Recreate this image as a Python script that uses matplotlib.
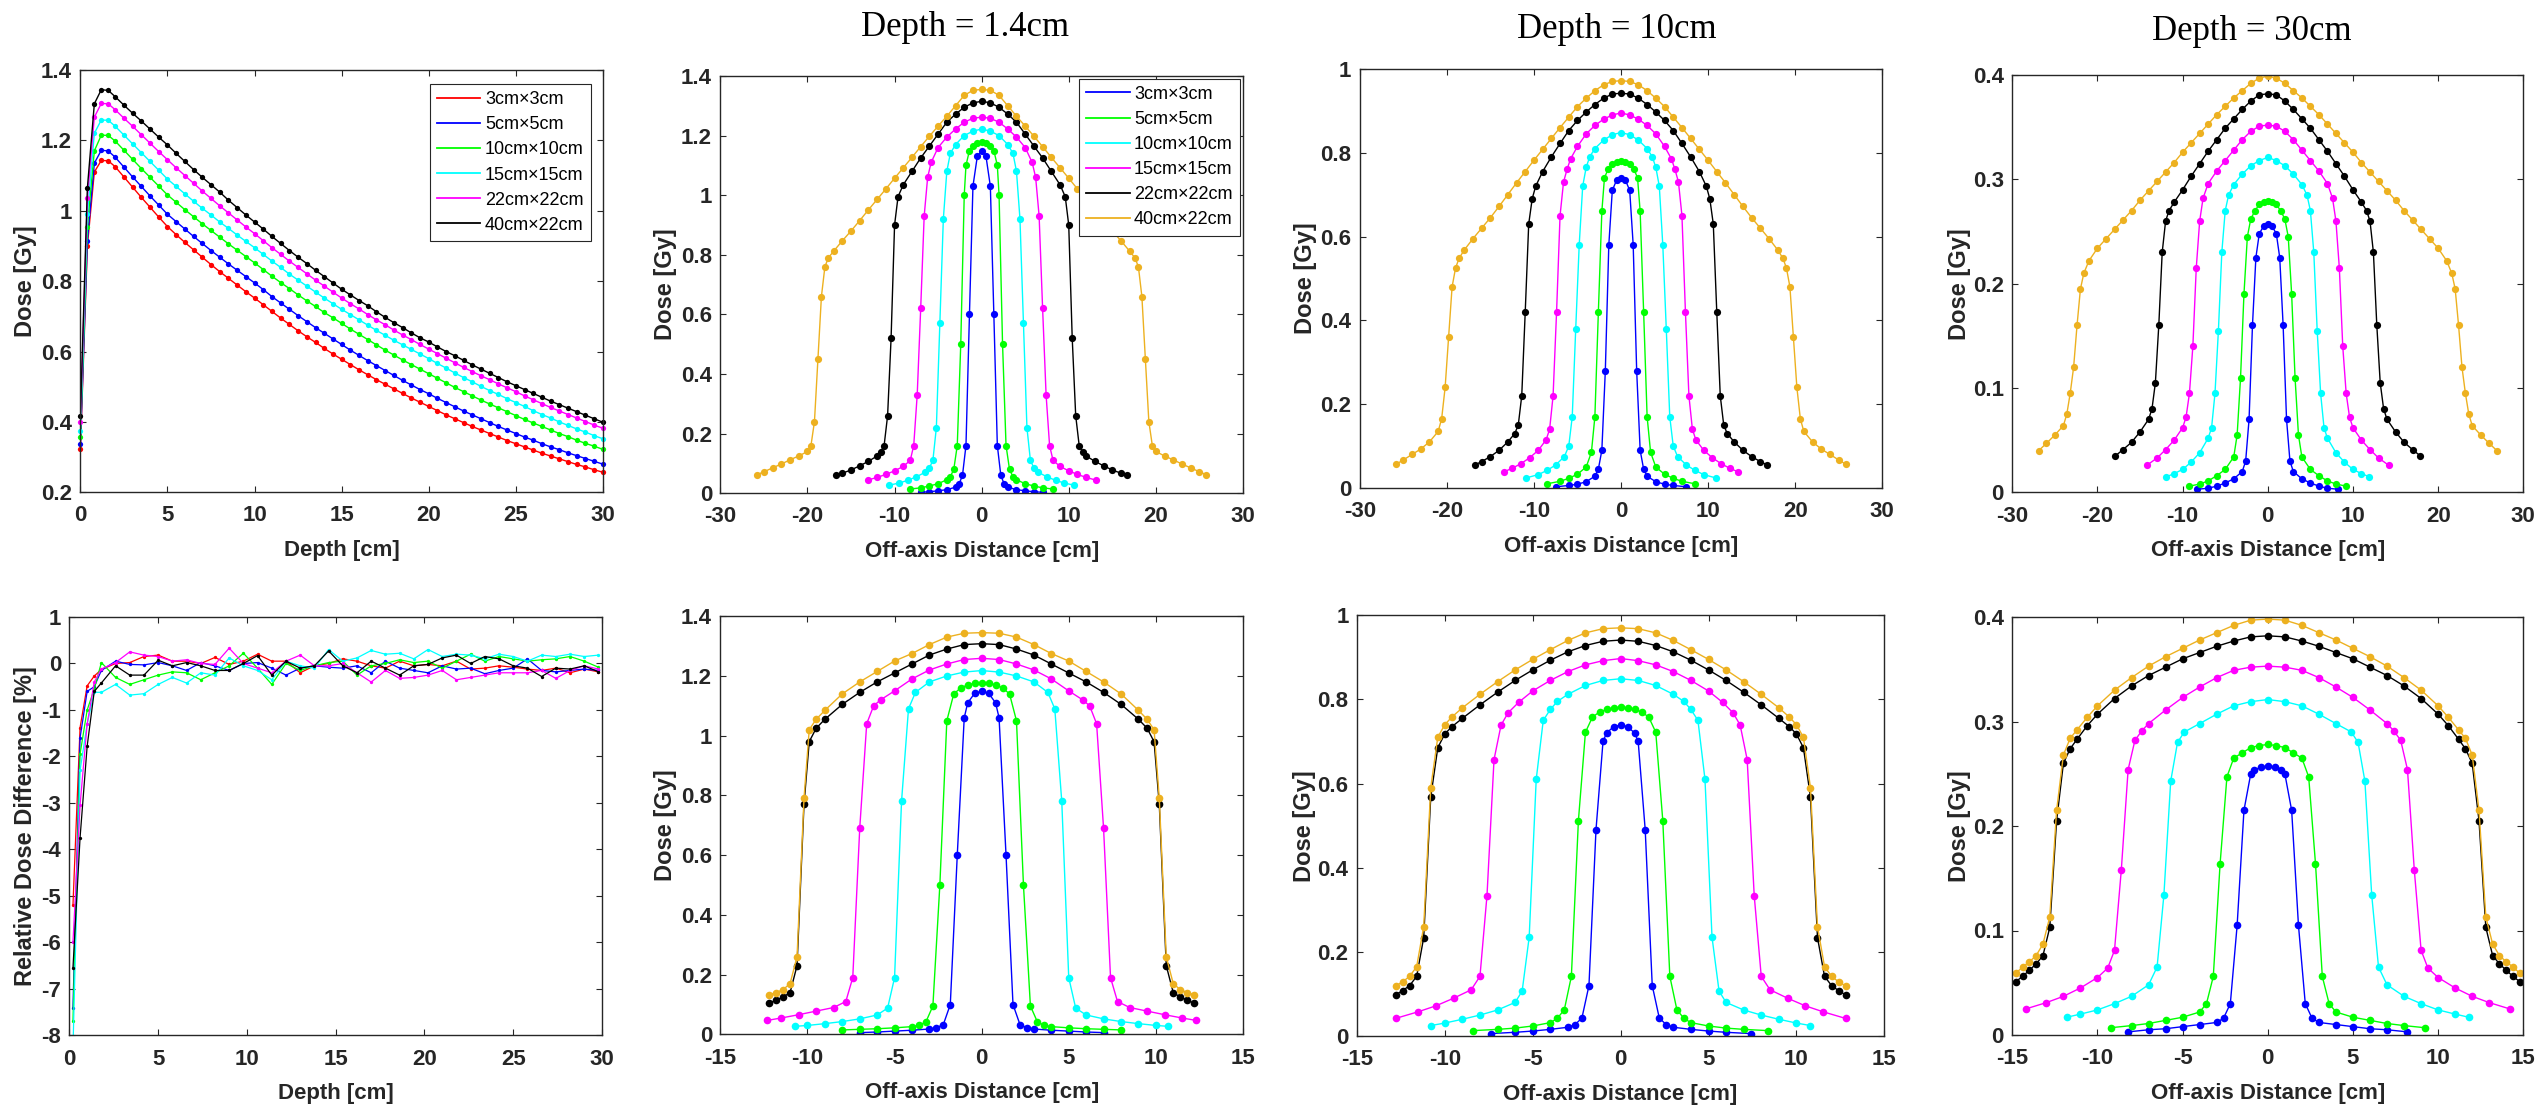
import matplotlib
matplotlib.use("Agg")
import matplotlib.pyplot as plt
from matplotlib.lines import Line2D
from matplotlib.ticker import FuncFormatter

plt.rcParams["axes.unicode_minus"] = False
plt.rcParams["font.family"] = ["Liberation Sans", "DejaVu Sans"]

field_labels = ["3cm×3cm", "5cm×5cm", "10cm×10cm", "15cm×15cm", "22cm×22cm", "40cm×22cm"]
pdd_colors = ["#ff0000", "#0000ff", "#00ff00", "#00ffff", "#ff00ff", "#000000"]
prof_colors = ["#0000ff", "#00ff00", "#00ffff", "#ff00ff", "#000000", "#edb120"]

# ---- depth dose curves [Gy] ----
pdd_depth = [0, 0.4, 0.8, 1.2, 1.6, 2.0, 2.5, 3.0, 3.5, 4.0, 4.5, 5.0,
             5.5, 6.0, 6.5, 7.0, 7.5, 8.0, 8.5, 9.0, 9.5, 10.0,
             10.5, 11.0, 11.5, 12.0, 12.5, 13.0, 13.5, 14.0, 14.5, 15.0,
             15.5, 16.0, 16.5, 17.0, 17.5, 18.0, 18.5, 19.0, 19.5, 20.0,
             20.5, 21.0, 21.5, 22.0, 22.5, 23.0, 23.5, 24.0, 24.5, 25.0,
             25.5, 26.0, 26.5, 27.0, 27.5, 28.0, 28.5, 29.0, 29.5, 30.0]
pdd_3x3 = [0.323, 0.90, 1.11, 1.143, 1.142, 1.125, 1.096, 1.067, 1.038, 1.01, 0.982, 0.955,
           0.932, 0.910, 0.889, 0.868, 0.847, 0.827, 0.808, 0.789, 0.770, 0.752,
           0.733, 0.714, 0.695, 0.677, 0.659, 0.642, 0.626, 0.609, 0.593, 0.578,
           0.563, 0.548, 0.534, 0.520, 0.507, 0.494, 0.481, 0.468, 0.456, 0.444,
           0.432, 0.420, 0.409, 0.398, 0.387, 0.377, 0.367, 0.357, 0.347, 0.338,
           0.329, 0.320, 0.311, 0.303, 0.295, 0.287, 0.279, 0.272, 0.264, 0.257]
pdd_5x5 = [0.336, 0.915, 1.135, 1.172, 1.17, 1.152, 1.124, 1.096, 1.069, 1.042, 1.016, 0.99,
           0.969, 0.948, 0.927, 0.907, 0.887, 0.868, 0.849, 0.831, 0.813, 0.795,
           0.776, 0.756, 0.738, 0.720, 0.702, 0.685, 0.668, 0.652, 0.636, 0.620,
           0.604, 0.589, 0.574, 0.560, 0.546, 0.532, 0.518, 0.505, 0.492, 0.480,
           0.467, 0.455, 0.443, 0.431, 0.420, 0.409, 0.398, 0.387, 0.377, 0.367,
           0.357, 0.348, 0.338, 0.329, 0.321, 0.312, 0.304, 0.296, 0.288, 0.280]
pdd_10x10 = [0.356, 0.955, 1.17, 1.215, 1.214, 1.198, 1.172, 1.146, 1.12, 1.095, 1.07, 1.045,
             1.024, 1.003, 0.983, 0.963, 0.944, 0.925, 0.906, 0.888, 0.870, 0.852,
             0.833, 0.814, 0.796, 0.779, 0.761, 0.744, 0.728, 0.711, 0.696, 0.680,
             0.664, 0.649, 0.634, 0.619, 0.604, 0.590, 0.576, 0.563, 0.550, 0.537,
             0.524, 0.511, 0.498, 0.486, 0.474, 0.462, 0.451, 0.440, 0.429, 0.418,
             0.407, 0.397, 0.387, 0.377, 0.367, 0.358, 0.348, 0.339, 0.331, 0.322]
pdd_15x15 = [0.375, 0.99, 1.22, 1.258, 1.257, 1.24, 1.215, 1.19, 1.165, 1.14, 1.115, 1.09,
             1.069, 1.048, 1.027, 1.007, 0.988, 0.968, 0.950, 0.931, 0.913, 0.895,
             0.876, 0.857, 0.839, 0.820, 0.803, 0.786, 0.769, 0.752, 0.736, 0.720,
             0.705, 0.690, 0.675, 0.660, 0.646, 0.632, 0.619, 0.606, 0.593, 0.580,
             0.566, 0.553, 0.539, 0.526, 0.514, 0.501, 0.489, 0.478, 0.466, 0.455,
             0.444, 0.432, 0.421, 0.411, 0.400, 0.390, 0.380, 0.371, 0.361, 0.352]
pdd_22x22 = [0.399, 1.035, 1.266, 1.305, 1.304, 1.287, 1.263, 1.24, 1.216, 1.192, 1.168, 1.145,
             1.122, 1.100, 1.078, 1.056, 1.035, 1.014, 0.994, 0.974, 0.954, 0.935,
             0.915, 0.895, 0.876, 0.857, 0.839, 0.821, 0.803, 0.786, 0.769, 0.752,
             0.736, 0.721, 0.705, 0.690, 0.676, 0.661, 0.647, 0.634, 0.620, 0.607,
             0.594, 0.581, 0.568, 0.555, 0.543, 0.531, 0.520, 0.508, 0.497, 0.486,
             0.474, 0.463, 0.452, 0.441, 0.431, 0.421, 0.411, 0.401, 0.391, 0.382]
pdd_40x22 = [0.418, 1.064, 1.304, 1.344, 1.342, 1.324, 1.30, 1.277, 1.255, 1.232, 1.209, 1.187,
             1.163, 1.14, 1.117, 1.095, 1.074, 1.053, 1.03, 1.009, 0.988, 0.968,
             0.948, 0.927, 0.907, 0.887, 0.868, 0.85, 0.831, 0.813, 0.795, 0.777,
             0.761, 0.745, 0.73, 0.713, 0.697, 0.682, 0.668, 0.653, 0.639, 0.627,
             0.613, 0.6, 0.588, 0.575, 0.562, 0.55, 0.538, 0.526, 0.514, 0.503,
             0.492, 0.481, 0.47, 0.459, 0.449, 0.439, 0.429, 0.419, 0.409, 0.399]
pdd_values = [pdd_3x3, pdd_5x5, pdd_10x10, pdd_15x15, pdd_22x22, pdd_40x22]

# ---- relative dose difference [%] ----
diff_depth = [0.2, 0.6, 1.0, 1.4, 1.8, 2.6, 3.4, 4.2, 5.0, 5.8, 6.6, 7.4, 8.2, 9.0, 9.8,
              10.6, 11.4, 12.2, 13.0, 13.8, 14.6, 15.4, 16.2, 17.0, 17.8, 18.6, 19.4,
              20.2, 21.0, 21.8, 22.6, 23.4, 24.2, 25.0, 25.8, 26.6, 27.4, 28.2, 29.0, 29.8]
diff_3x3 = [-5.2, -1.38, -0.48, -0.27, -0.13, 0.0, 0.02, 0.15, 0.18, 0.05, 0.05, 0.0, 0.13, -0.02,
            0.05, 0.2, 0.05, 0.05, -0.2, -0.05, 0.0, 0.1, 0.05, -0.05, -0.1, 0.05, -0.05, -0.02,
            -0.05, 0.05, -0.12, -0.1, -0.05, -0.08, -0.12, -0.15, -0.1, -0.2, -0.12, -0.18]
diff_5x5 = [-7.4, -1.6, -0.6, -0.5, -0.15, 0.05, -0.02, -0.03, 0.02, -0.05, -0.15, 0.02, -0.05,
            -0.15, 0.0, 0.02, -0.1, -0.25, -0.1, -0.05, -0.08, -0.1, -0.05, -0.2, 0.05, -0.1,
            -0.15, -0.2, -0.05, -0.12, -0.1, -0.22, -0.15, -0.1, 0.1, -0.15, -0.18, -0.15, -0.12, -0.15]
diff_10x10 = [-7.7, -1.95, -1.0, -0.55, 0.02, -0.3, -0.45, -0.35, -0.25, -0.18, -0.2, -0.35, -0.2,
              -0.05, 0.22, -0.1, -0.45, 0.0, -0.15, -0.05, 0.02, 0.05, -0.25, -0.05, 0.0, 0.08,
              0.02, 0.05, -0.1, 0.05, 0.2, 0.05, 0.15, 0.1, 0.05, 0.08, 0.1, 0.15, 0.05, -0.08]
diff_15x15 = [-8.3, -2.3, -1.3, -0.62, -0.62, -0.45, -0.68, -0.65, -0.45, -0.3, -0.42, -0.2, -0.25,
              0.12, -0.05, -0.15, -0.35, 0.05, -0.05, -0.1, 0.3, 0.05, 0.12, 0.28, 0.2, 0.22, 0.1,
              0.3, 0.15, 0.2, 0.18, 0.1, 0.2, 0.15, 0.05, 0.18, 0.15, 0.2, 0.15, 0.18]
diff_22x22 = [-6.0, -3.05, -1.3, -0.4, -0.12, 0.02, 0.25, 0.18, 0.15, 0.05, 0.08, 0.0, -0.02, 0.33,
              0.0, -0.1, -0.2, 0.05, 0.18, -0.05, -0.05, 0.0, -0.2, -0.4, -0.15, -0.32, -0.3,
              -0.25, -0.15, -0.35, -0.3, -0.25, -0.2, -0.2, -0.2, -0.15, -0.32, -0.15, -0.05, -0.12]
diff_40x22 = [-6.55, -3.75, -1.78, -0.6, -0.42, -0.05, -0.25, -0.25, 0.07, -0.05, 0.02, -0.05,
              -0.15, -0.15, 0.0, 0.17, -0.25, 0.05, -0.1, -0.05, 0.27, -0.05, -0.2, 0.05, -0.1,
              -0.25, -0.05, -0.02, 0.12, 0.18, 0.0, 0.15, 0.1, -0.05, -0.1, -0.28, -0.1, -0.12, -0.05, -0.18]
diff_values = [diff_3x3, diff_5x5, diff_10x10, diff_15x15, diff_22x22, diff_40x22]

# ---- half profiles (off-axis >= 0, symmetric), order 3x3 ... 40x22 ----
# depth 1.4 cm, long axis
inl14_x = [[0, 0.5, 1.0, 1.4, 1.8, 2.2, 2.6, 3, 4, 5, 6, 7],
           [0, 0.5, 1.0, 1.4, 1.8, 2.0, 2.4, 2.8, 3.2, 3.6, 4, 5, 6, 7, 8.2],
           [0, 1, 2, 3, 3.6, 4.0, 4.4, 4.8, 5.2, 5.6, 6.0, 6.5, 7.5, 8.5, 9.5, 10.6],
           [0, 1, 2, 3, 4, 5, 5.8, 6.2, 6.6, 7.0, 7.4, 7.8, 8.2, 9, 10, 11, 12, 13.1],
           [0, 1, 2, 3, 4, 5, 6, 7, 8, 9, 9.6, 10.0, 10.4, 10.8, 11.2, 11.6, 12, 13, 14, 15, 16, 16.7],
           [0, 1, 2, 3, 4, 5, 6, 7, 8, 9, 10, 11, 12, 13, 14, 15, 16, 17, 17.6, 18.0, 18.4, 18.8,
            19.2, 19.6, 20, 21, 22, 23, 24, 25, 25.8]]
inl14_d = [[1.15, 1.13, 1.03, 0.6, 0.16, 0.06, 0.03, 0.02, 0.012, 0.008, 0.005, 0.003],
           [1.178, 1.175, 1.165, 1.15, 1.10, 1.0, 0.5, 0.16, 0.08, 0.055, 0.045, 0.032, 0.024, 0.018, 0.014],
           [1.222, 1.215, 1.20, 1.17, 1.14, 1.08, 0.92, 0.57, 0.22, 0.11, 0.085, 0.07, 0.055, 0.043, 0.034, 0.027],
           [1.262, 1.258, 1.245, 1.222, 1.195, 1.16, 1.11, 1.06, 0.93, 0.62, 0.33, 0.16, 0.11, 0.09, 0.075,
            0.063, 0.053, 0.044],
           [1.315, 1.31, 1.295, 1.272, 1.245, 1.205, 1.165, 1.125, 1.08, 1.035, 0.995, 0.90, 0.52, 0.26,
            0.16, 0.138, 0.125, 0.107, 0.092, 0.078, 0.067, 0.06],
           [1.355, 1.352, 1.335, 1.30, 1.265, 1.232, 1.198, 1.163, 1.127, 1.092, 1.057, 1.021, 0.986,
            0.951, 0.915, 0.88, 0.847, 0.812, 0.79, 0.76, 0.66, 0.45, 0.24, 0.16, 0.14, 0.125, 0.112,
            0.098, 0.085, 0.072, 0.062]]
# depth 10 cm, long axis
inl10_x = [[0, 0.5, 1.0, 1.4, 1.8, 2.2, 2.6, 3, 4, 5, 6, 7.5],
           [0, 0.5, 1.0, 1.5, 1.9, 2.2, 2.6, 3.0, 3.4, 4, 5, 6, 7, 8.5],
           [0, 1, 2, 3, 3.6, 4.0, 4.4, 4.8, 5.2, 5.6, 6.0, 6.5, 7.5, 8.5, 9.5, 10.9],
           [0, 1, 2, 3, 4, 5, 5.8, 6.2, 6.6, 7.0, 7.4, 7.8, 8.2, 8.6, 9.5, 10.5, 11.5, 12.5, 13.4],
           [0, 1, 2, 3, 4, 5, 6, 7, 8, 9, 9.8, 10.2, 10.6, 11.0, 11.4, 11.8, 12.2, 13, 14, 15, 16, 16.8],
           [0, 1, 2, 3, 4, 5, 6, 7, 8, 9, 10, 11, 12, 13, 14, 15, 16, 17, 18, 18.6, 19.0, 19.4, 19.8,
            20.2, 20.6, 21.0, 22, 23, 24, 25, 25.8]]
inl10_d = [[0.74, 0.735, 0.71, 0.58, 0.28, 0.09, 0.045, 0.028, 0.015, 0.009, 0.006, 0.003],
           [0.78, 0.779, 0.772, 0.76, 0.74, 0.66, 0.42, 0.17, 0.085, 0.05, 0.033, 0.023, 0.016, 0.01],
           [0.848, 0.843, 0.83, 0.81, 0.79, 0.765, 0.72, 0.58, 0.38, 0.17, 0.10, 0.075, 0.055, 0.042, 0.032, 0.024],
           [0.895, 0.89, 0.88, 0.865, 0.845, 0.815, 0.785, 0.76, 0.73, 0.65, 0.42, 0.22, 0.14, 0.115,
            0.09, 0.072, 0.058, 0.047, 0.039],
           [0.942, 0.94, 0.93, 0.915, 0.897, 0.877, 0.853, 0.822, 0.79, 0.755, 0.72, 0.69, 0.63, 0.42,
            0.22, 0.15, 0.13, 0.11, 0.09, 0.075, 0.063, 0.055],
           [0.972, 0.97, 0.962, 0.948, 0.93, 0.91, 0.885, 0.86, 0.834, 0.808, 0.782, 0.755, 0.728, 0.70,
            0.672, 0.645, 0.62, 0.595, 0.568, 0.548, 0.525, 0.48, 0.36, 0.24, 0.165, 0.135, 0.11, 0.093,
            0.08, 0.067, 0.057]]
# depth 30 cm, long axis
inl30_x = [[0, 0.5, 1.0, 1.4, 1.8, 2.2, 2.6, 3.0, 4, 5, 6, 7, 8.3],
           [0, 0.5, 1.0, 1.5, 2.0, 2.4, 2.8, 3.2, 3.6, 4.0, 5, 6, 7, 8, 9.2],
           [0, 1, 2, 3, 4, 4.6, 5.0, 5.4, 5.8, 6.2, 6.6, 7, 8, 9, 10, 11, 11.9],
           [0, 1, 2, 3, 4, 5, 6, 7, 7.6, 8.0, 8.4, 8.8, 9.2, 9.6, 10, 11, 12, 13, 14.2],
           [0, 1, 2, 3, 4, 5, 6, 7, 8, 9, 10, 11, 11.6, 12.0, 12.4, 12.8, 13.2, 13.6, 14, 15, 16, 17, 17.9],
           [0, 1, 2, 3, 4, 5, 6, 7, 8, 9, 10, 11, 12, 13, 14, 15, 16, 17, 18, 19, 20, 21, 21.6, 22.0,
            22.4, 22.8, 23.2, 23.6, 24, 25, 26, 26.9]]
inl30_d = [[0.257, 0.255, 0.248, 0.225, 0.16, 0.07, 0.03, 0.02, 0.013, 0.009, 0.006, 0.004, 0.003],
           [0.279, 0.278, 0.276, 0.27, 0.262, 0.245, 0.19, 0.11, 0.055, 0.034, 0.022, 0.016, 0.011, 0.008, 0.006],
           [0.321, 0.318, 0.313, 0.305, 0.295, 0.285, 0.27, 0.23, 0.155, 0.095, 0.062, 0.052, 0.038,
            0.029, 0.022, 0.018, 0.015],
           [0.352, 0.351, 0.346, 0.338, 0.328, 0.318, 0.308, 0.296, 0.282, 0.26, 0.215, 0.14, 0.095,
            0.072, 0.062, 0.05, 0.041, 0.033, 0.026],
           [0.382, 0.381, 0.375, 0.367, 0.358, 0.349, 0.338, 0.327, 0.315, 0.303, 0.29, 0.278, 0.27,
            0.26, 0.23, 0.16, 0.105, 0.08, 0.07, 0.058, 0.048, 0.041, 0.035],
           [0.399, 0.397, 0.392, 0.385, 0.378, 0.37, 0.362, 0.353, 0.344, 0.335, 0.326, 0.316, 0.307,
            0.298, 0.289, 0.28, 0.27, 0.261, 0.252, 0.243, 0.234, 0.222, 0.21, 0.195, 0.16, 0.12,
            0.095, 0.075, 0.064, 0.055, 0.047, 0.04]]
# depth 1.4 cm, cross axis
crs14_x = [[0, 0.4, 0.8, 1.0, 1.4, 1.8, 2.2, 2.6, 3, 4, 5, 6, 7],
           [0, 0.4, 0.8, 1.2, 1.6, 2.0, 2.4, 2.8, 3.2, 3.6, 4, 5, 6, 7, 8],
           [0, 1, 2, 3, 3.8, 4.2, 4.6, 5.0, 5.4, 6, 7, 8, 9, 10, 10.7],
           [0, 1, 2, 3, 4, 5, 5.8, 6.2, 6.6, 7.0, 7.4, 7.8, 8.5, 9.5, 10.5, 11.5, 12.3],
           [0, 1, 2, 3, 4, 5, 6, 7, 8, 9, 9.5, 9.9, 10.2, 10.6, 11.0, 11.4, 11.8, 12.2],
           [0, 1, 2, 3, 4, 5, 6, 7, 8, 9, 9.5, 9.9, 10.2, 10.6, 11.0, 11.4, 11.8, 12.2]]
crs14_d = [[1.148, 1.142, 1.11, 1.06, 0.6, 0.1, 0.033, 0.022, 0.018, 0.014, 0.011, 0.008, 0.006],
           [1.176, 1.175, 1.17, 1.16, 1.14, 1.05, 0.5, 0.095, 0.042, 0.03, 0.026, 0.022, 0.019, 0.017, 0.015],
           [1.218, 1.213, 1.20, 1.18, 1.145, 1.09, 0.78, 0.19, 0.088, 0.065, 0.052, 0.043, 0.036, 0.03, 0.027],
           [1.259, 1.255, 1.24, 1.22, 1.19, 1.15, 1.12, 1.10, 1.04, 0.69, 0.19, 0.11, 0.09, 0.078,
            0.066, 0.055, 0.047],
           [1.308, 1.305, 1.29, 1.27, 1.24, 1.21, 1.18, 1.145, 1.105, 1.055, 1.025, 0.98, 0.77, 0.23,
            0.14, 0.125, 0.115, 0.104],
           [1.345, 1.343, 1.33, 1.305, 1.275, 1.25, 1.215, 1.18, 1.14, 1.085, 1.055, 1.02, 0.79, 0.26,
            0.17, 0.15, 0.14, 0.133]]
# depth 10 cm, cross axis
crs10_x = [[0, 0.4, 0.8, 1.0, 1.4, 1.8, 2.2, 2.6, 3, 4, 5, 6, 7.4],
           [0, 0.4, 0.8, 1.2, 1.6, 2.0, 2.4, 2.8, 3.2, 3.6, 4, 5, 6, 7, 8.4],
           [0, 1, 2, 3, 3.6, 4.0, 4.4, 4.8, 5.2, 5.6, 6, 7, 8, 9, 10, 10.8],
           [0, 1, 2, 3, 4, 5, 5.8, 6.4, 6.8, 7.2, 7.6, 8.0, 8.5, 9.5, 10.5, 11.5, 12.8],
           [0, 1, 2, 3, 4, 5, 6, 7, 8, 9, 9.6, 10.0, 10.4, 10.8, 11.2, 11.6, 12.0, 12.4, 12.8],
           [0, 1, 2, 3, 4, 5, 6, 7, 8, 9, 9.6, 10.0, 10.4, 10.8, 11.2, 11.6, 12.0, 12.4, 12.8]]
crs10_d = [[0.739, 0.735, 0.72, 0.70, 0.49, 0.12, 0.043, 0.027, 0.021, 0.016, 0.012, 0.009, 0.006],
           [0.781, 0.78, 0.776, 0.77, 0.758, 0.722, 0.512, 0.142, 0.063, 0.042, 0.032, 0.024, 0.019, 0.016, 0.013],
           [0.849, 0.845, 0.833, 0.812, 0.795, 0.776, 0.75, 0.61, 0.235, 0.107, 0.08, 0.062, 0.05,
            0.04, 0.031, 0.025],
           [0.897, 0.892, 0.882, 0.866, 0.845, 0.82, 0.793, 0.768, 0.739, 0.657, 0.334, 0.142, 0.11,
            0.09, 0.072, 0.058, 0.042],
           [0.941, 0.938, 0.928, 0.913, 0.893, 0.87, 0.845, 0.817, 0.787, 0.755, 0.735, 0.718, 0.685,
            0.568, 0.234, 0.142, 0.12, 0.108, 0.098],
           [0.97, 0.968, 0.958, 0.94, 0.918, 0.895, 0.87, 0.842, 0.812, 0.78, 0.758, 0.74, 0.71, 0.59,
            0.26, 0.165, 0.142, 0.129, 0.119]]
# depth 30 cm, cross axis
crs30_x = [[0, 0.4, 0.8, 1.0, 1.4, 1.8, 2.2, 2.6, 3, 4, 5, 6, 7, 8.2],
           [0, 0.5, 1.0, 1.5, 2.0, 2.4, 2.8, 3.2, 3.6, 4, 5, 6, 7, 8, 9.2],
           [0, 1, 2, 3, 4, 4.9, 5.3, 5.7, 6.1, 6.5, 7, 8, 9, 10, 11, 11.8],
           [0, 1, 2, 3, 4, 5, 6, 7, 7.4, 7.8, 8.2, 8.6, 9.0, 9.4, 10, 11, 12, 13, 14.2],
           [0, 1, 2, 3, 4, 5, 6, 7, 8, 9, 10, 10.6, 11.2, 11.6, 12.0, 12.4, 12.8, 13.2, 13.6, 14.0, 14.4, 14.8],
           [0, 1, 2, 3, 4, 5, 6, 7, 8, 9, 10, 10.6, 11.2, 11.6, 12.0, 12.4, 12.8, 13.2, 13.6, 14.0, 14.4, 14.8]]
crs30_d = [[0.257, 0.256, 0.254, 0.25, 0.215, 0.105, 0.03, 0.016, 0.012, 0.01, 0.008, 0.006, 0.005, 0.003],
           [0.278, 0.277, 0.275, 0.27, 0.265, 0.247, 0.164, 0.056, 0.03, 0.022, 0.017, 0.014, 0.011, 0.009, 0.007],
           [0.321, 0.319, 0.315, 0.307, 0.298, 0.29, 0.28, 0.243, 0.134, 0.065, 0.048, 0.037, 0.03,
            0.024, 0.02, 0.017],
           [0.353, 0.352, 0.349, 0.342, 0.333, 0.323, 0.311, 0.298, 0.291, 0.282, 0.254, 0.158, 0.081,
            0.064, 0.055, 0.045, 0.037, 0.031, 0.025],
           [0.382, 0.381, 0.377, 0.372, 0.366, 0.36, 0.352, 0.344, 0.334, 0.322, 0.307, 0.296, 0.283,
            0.274, 0.26, 0.205, 0.103, 0.076, 0.068, 0.062, 0.056, 0.051],
           [0.398, 0.397, 0.392, 0.385, 0.378, 0.37, 0.362, 0.353, 0.342, 0.33, 0.315, 0.304, 0.292,
            0.284, 0.268, 0.215, 0.113, 0.087, 0.076, 0.07, 0.065, 0.059]]

W, H = 2547, 1111
INK = "#262626"
NARROW = ["Liberation Sans Narrow", "Liberation Sans", "DejaVu Sans"]

fig = plt.figure(figsize=(W / 100, H / 100), dpi=100)


def panel(box, xlim, xticks, ylim, yticks, xlabel, ylabel, ylab_dx):
    l, t, r, b = box
    ax = fig.add_axes([l / W, 1 - b / H, (r - l) / W, (b - t) / H])
    ax.set_xlim(xlim)
    ax.set_ylim(ylim)
    ax.set_xticks(xticks)
    ax.set_yticks(yticks)
    fmt = FuncFormatter(lambda v, p: f"{v:g}")
    ax.xaxis.set_major_formatter(fmt)
    ax.yaxis.set_major_formatter(fmt)
    ax.tick_params(direction="in", top=True, right=True, length=4, width=0.8,
                   color=INK, labelcolor=INK, labelsize=16)
    ax.tick_params(axis="x", pad=9.5)
    ax.tick_params(axis="y", pad=6)
    for lab in ax.get_xticklabels() + ax.get_yticklabels():
        lab.set_fontfamily(NARROW)
        lab.set_fontweight("bold")
    for s in ax.spines.values():
        s.set_color(INK)
        s.set_linewidth(1.0)
    ax.set_xlabel(xlabel, fontsize=16, fontweight="bold", color=INK, va="center")
    ax.xaxis.set_label_coords(0.5, -58 / (b - t))
    ax.set_ylabel(ylabel, fontsize=17, fontweight="bold", color=INK, va="center")
    ax.yaxis.set_label_coords(ylab_dx / (r - l), 0.5)
    return ax


def mirror(xh, dh):
    return [-v for v in xh[:0:-1]] + list(xh), list(dh[:0:-1]) + list(dh)


def draw_profiles(ax, xs, ds, ms):
    for xh, dh, c in zip(xs, ds, prof_colors):
        x, d = mirror(xh, dh)
        ax.plot(x, d, "-", color=c, lw=1.0)
        ax.plot(x, d, "o", color=c, ms=ms, mew=0)


def add_legend(ax, colors, anchor):
    handles = [Line2D([], [], color=c, lw=1.3) for c in colors]
    leg = ax.legend(handles, field_labels, loc="upper right", bbox_to_anchor=anchor,
                    bbox_transform=ax.transAxes, borderaxespad=0,
                    prop={"family": ["Liberation Sans", "DejaVu Sans"], "size": 13},
                    fancybox=False, framealpha=1, edgecolor=INK, handlelength=2.4,
                    handletextpad=0.25, labelspacing=0.45, borderpad=0.4)
    leg.get_frame().set_linewidth(0.8)


dose14_ticks = [0, 0.2, 0.4, 0.6, 0.8, 1.0, 1.2, 1.4]
dose10_ticks = [0, 0.2, 0.4, 0.6, 0.8, 1.0]
dose30_ticks = [0, 0.1, 0.2, 0.3, 0.4]
wide_ticks = [-30, -20, -10, 0, 10, 20, 30]
narrow_ticks = [-15, -10, -5, 0, 5, 10, 15]
depth_ticks = [0, 5, 10, 15, 20, 25, 30]
oad = "Off-axis Distance [cm]"

# depth dose
ax = panel((80.4, 70, 602.9, 492.3), (0, 30), depth_ticks, (0.2, 1.4),
           [0.2, 0.4, 0.6, 0.8, 1.0, 1.2, 1.4], "Depth [cm]", "Dose [Gy]", -55)
for vals, c in zip(pdd_values, pdd_colors):
    ax.plot(pdd_depth, vals, "-", color=c, lw=1.0)
    ax.plot(pdd_depth, vals, "o", color=c, ms=3.8, mew=0, clip_on=False)
add_legend(ax, pdd_colors, (0.977, 0.967))

ax = panel((720.4, 76, 1242.9, 493.2), (-30, 30), wide_ticks, (0, 1.4), dose14_ticks,
           oad, "Dose [Gy]", -55)
draw_profiles(ax, inl14_x, inl14_d, 5.2)
add_legend(ax, prof_colors, (0.9945, 0.994))

ax = panel((1359.8, 68.9, 1882.2, 488), (-30, 30), wide_ticks, (0, 1), dose10_ticks,
           oad, "Dose [Gy]", -54)
draw_profiles(ax, inl10_x, inl10_d, 5.2)

ax = panel((2012.3, 75, 2523.3, 492.4), (-30, 30), wide_ticks, (0, 0.4), dose30_ticks,
           oad, "Dose [Gy]", -53)
draw_profiles(ax, inl30_x, inl30_d, 5.2)

# relative difference
ax = panel((69.4, 617, 602, 1035.4), (0, 30), depth_ticks, (-8, 1),
           [-8, -7, -6, -5, -4, -3, -2, -1, 0, 1], "Depth [cm]", "Relative Dose Difference [%]", -44)
for vals, c in zip(diff_values, pdd_colors):
    ax.plot(diff_depth, vals, "-", color=c, lw=0.9)
    ax.plot(diff_depth, vals, "o", color=c, ms=2.4, mew=0)

ax = panel((720.4, 616.2, 1242.9, 1034.4), (-15, 15), narrow_ticks, (0, 1.4), dose14_ticks,
           oad, "Dose [Gy]", -55)
draw_profiles(ax, crs14_x, crs14_d, 5.5)

ax = panel((1356.9, 615.2, 1884.3, 1036.1), (-15, 15), narrow_ticks, (0, 1), dose10_ticks,
           oad, "Dose [Gy]", -52)
draw_profiles(ax, crs10_x, crs10_d, 5.5)

ax = panel((2012.3, 617, 2523.3, 1035), (-15, 15), narrow_ticks, (0, 0.4), dose30_ticks,
           oad, "Dose [Gy]", -53)
draw_profiles(ax, crs30_x, crs30_d, 5.5)

serif = ["Liberation Serif", "DejaVu Serif"]
fig.text(965 / W, 1 - 27 / H, "Depth = 1.4cm", ha="center", va="center", family=serif, fontsize=25)
fig.text(1617 / W, 1 - 29 / H, "Depth = 10cm", ha="center", va="center", family=serif, fontsize=25)
fig.text(2252 / W, 1 - 32 / H, "Depth = 30cm", ha="center", va="center", family=serif, fontsize=25)

fig.savefig("out.png", dpi=100, facecolor="white")
